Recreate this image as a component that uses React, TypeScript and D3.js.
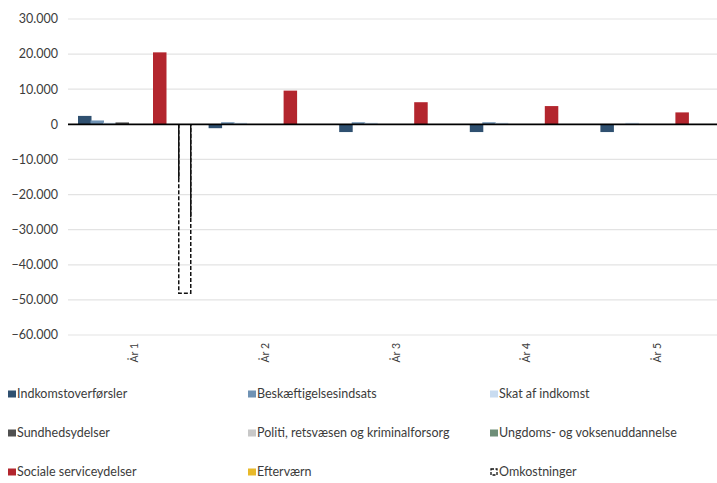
import React from 'react';
import * as d3 from 'd3';

const categories = ['År 1', 'År 2', 'År 3', 'År 4', 'År 5'];
const seriesNames = [
  'Indkomstoverførsler',
  'Beskæftigelsesindsats',
  'Skat af indkomst',
  'Sundhedsydelser',
  'Politi, retsvæsen og kriminalforsorg',
  'Ungdoms- og voksenuddannelse',
  'Sociale serviceydelser',
  'Efterværn',
  'Omkostninger',
];
const indkomst = [2400, -1100, -2200, -2200, -2200];
const beskaeft = [1100, 600, 600, 600, 0];
const skat = [450, 450, 450, 450, 450];
const sundhed = [550, 0, 0, 0, 0];
const politi = [0, 0, 0, 0, 0];
const ungdom = [0, 0, 0, 0, 0];
const sociale = [20500, 9600, 6300, 5200, 3400];
const eftervaern = [0, 0, 0, 0, 0];
const omkostninger = [-48100, 0, 0, 0, 0];
const yTicks = [30000, 20000, 10000, 0, -10000, -20000, -30000, -40000, -50000, -60000];

const seriesValues = [indkomst, beskaeft, skat, sundhed, politi, ungdom, sociale, eftervaern, omkostninger];
const colors = ['#2f5070', '#6f92b4', '#c9dcf0', '#505050', '#c8c8c8', '#6e8e78', '#b3262e', '#e8b92a', 'none'];

const W = 717;
const H = 483;
const plotLeft = 68;
const plotRight = 722;
const fmt = (v: number) => (v === 0 ? '0' : d3.format(',')(v).replace(/,/g, '.'));

export default function App() {
  const y = d3.scaleLinear().domain([-60000, 30000]).range([335, 19]);
  const x0 = d3.scaleBand<string>().domain(categories).range([69.5, 722.5]).paddingInner(0).paddingOuter(0);
  const x1 = d3
    .scaleBand<string>()
    .domain(seriesNames)
    .range([8.5, 8.5 + 9 * 12.5]);
  const barW = 13.5;
  const font = 'Lato, "Open Sans", sans-serif';
  const textColor = '#3c3c3c';

  const legendCols = [8, 248, 490];
  const legendRows = [394, 433, 472];

  return (
    <svg width={W} height={H} style={{ position: 'absolute', left: 0, top: 0, background: '#fff' }}>
      <rect x={0} y={0} width={W} height={H} fill="#fff" />
      {yTicks.map((t) => (
        <g key={t}>
          {t !== 0 && (
            <line x1={plotLeft} x2={W} y1={y(t)} y2={y(t)} stroke="#e3e3e3" strokeWidth={1.2} />
          )}
          <text
            x={58}
            y={y(t)}
            dy="0.35em"
            textAnchor="end"
            fontFamily={font}
            fontSize={12.5}
            fill={textColor}
          >
            {fmt(t)}
          </text>
        </g>
      ))}
      {seriesValues.map((vals, si) =>
        vals.map((v, ci) => {
          if (v === 0) return null;
          const bx = (x0(categories[ci]) as number) + (x1(seriesNames[si]) as number);
          const y0 = y(0);
          const yv = y(v);
          const top = Math.min(y0, yv);
          const h = Math.abs(yv - y0);
          if (si === 8) {
            const left = bx + 0.75;
            const right = bx + barW - 0.75;
            return (
              <g key={`${si}-${ci}`}>
                <path
                  d={`M${left},${y0} V${yv} H${right} V${y0}`}
                  fill="none"
                  stroke="#111"
                  strokeWidth={1.5}
                  strokeDasharray="4,2"
                />
                <line x1={left} x2={left} y1={y0} y2={y(-15500)} stroke="#111" strokeWidth={1.5} />
                <line x1={right} x2={right} y1={y0} y2={y(-26500)} stroke="#111" strokeWidth={1.5} />
              </g>
            );
          }
          return <rect key={`${si}-${ci}`} x={bx} y={top} width={barW} height={h} fill={colors[si]} />;
        })
      )}
      <line x1={plotLeft} x2={W} y1={y(0)} y2={y(0)} stroke="#000" strokeWidth={1.6} />
      {categories.map((c) => {
        const cx = (x0(c) as number) + x0.bandwidth() / 2;
        return (
          <text
            key={c}
            transform={`translate(${cx + 3.5},343) rotate(-90)`}
            textAnchor="end"
            fontFamily={font}
            fontSize={10.5}
            fill={textColor}
          >
            {c}
          </text>
        );
      })}
      {seriesNames.map((name, i) => {
        const col = i % 3;
        const row = Math.floor(i / 3);
        const lx = legendCols[col];
        const ly = legendRows[row];
        return (
          <g key={name} transform={`translate(${lx},${ly})`}>
            {i === 8 ? (
              <rect x={1} y={-3} width={6} height={6} fill="none" stroke="#111" strokeWidth={1.3} strokeDasharray="3,1.5" />
            ) : (
              <rect x={0} y={-3.5} width={8} height={7} fill={colors[i]} />
            )}
            <text x={9} y={0} dy="0.35em" fontFamily={font} fontSize={12.5} fill={textColor}>
              {name}
            </text>
          </g>
        );
      })}
    </svg>
  );
}
